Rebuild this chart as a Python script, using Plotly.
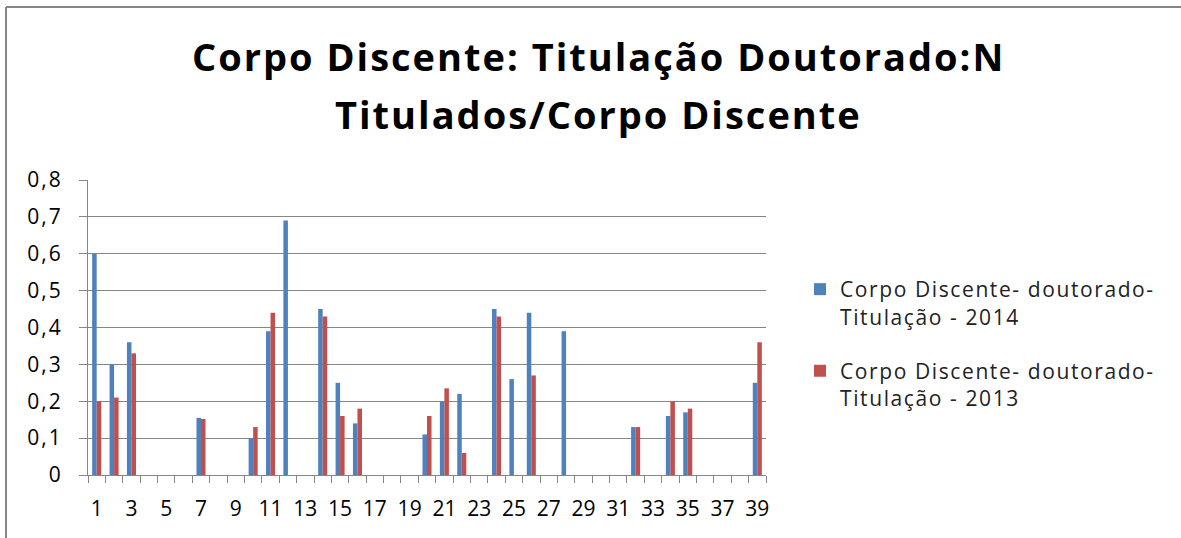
import plotly.graph_objects as go

categories = list(range(1, 40))
series_2014 = [0.6, 0.3, 0.36, None, None, None, 0.155, None, None, 0.1,
               0.39, 0.69, None, 0.45, 0.25, 0.14, None, None, None, 0.11,
               0.2, 0.22, None, 0.45, 0.26, 0.44, None, 0.39, None, None,
               None, 0.13, None, 0.16, 0.17, None, None, None, 0.25]
series_2013 = [0.2, 0.21, 0.33, None, None, None, 0.152, None, None, 0.13,
               0.44, None, None, 0.43, 0.16, 0.18, None, None, None, 0.16,
               0.235, 0.06, None, 0.43, None, 0.27, None, None, None, None,
               None, 0.13, None, 0.2, 0.18, None, None, None, 0.36]
x_tick_values = [c for c in categories if c % 2 == 1]
x_tick_labels = [str(c) for c in x_tick_values]
y_tick_values = [0, 0.1, 0.2, 0.3, 0.4, 0.5, 0.6, 0.7, 0.8]
y_tick_labels = ["0", "0,1", "0,2", "0,3", "0,4", "0,5", "0,6", "0,7", "0,8"]
name_2014 = ["Corpo Discente- doutorado-", "Titulação - 2014"]
name_2013 = ["Corpo Discente- doutorado-", "Titulação - 2013"]
title_lines = ["Corpo Discente: Titulação Doutorado:N", "Titulados/Corpo Discente"]

FONT = "Open Sans"
BLUE, RED = "#4F81BD", "#C0504D"
L, R, T, B = 88, 415, 180, 63
W, H = 1181, 538
pw, ph = W - L - R, H - T - B


def px_x(px):
    return (px - L) / pw


def px_y(py):
    return (H - B - py) / ph


def spaced(text, ls):
    return f"<span style='letter-spacing:{ls}px'>{text}</span>"


fig = go.Figure()
fig.add_trace(go.Bar(x=categories, y=series_2014, showlegend=False,
                     marker=dict(color=BLUE, line=dict(width=0))))
fig.add_trace(go.Bar(x=categories, y=series_2013, showlegend=False,
                     marker=dict(color=RED, line=dict(width=0))))
# legend entries (square swatches like the original)
for nm, col, grp in [(name_2014, BLUE, "a"), (name_2013, RED, "b")]:
    fig.add_trace(go.Scatter(x=[None], y=[None], mode="markers", legendgroup=grp,
                             name="<br>".join(spaced(s, 1.6) for s in nm),
                             marker=dict(symbol="square", size=13, color=col)))

fig.update_layout(
    width=W, height=H,
    margin=dict(l=L, r=R, t=T, b=B, autoexpand=False),
    paper_bgcolor="white", plot_bgcolor="white",
    separators=", ",
    barmode="group", bargap=0.48, bargroupgap=0,
    font=dict(family=FONT, color="#000000"),
    legend=dict(x=px_x(800), xanchor="left", y=px_y(344), yanchor="middle",
                font=dict(family=FONT, size=21, color="#222222"),
                valign="top", itemsizing="constant", tracegroupgap=24,
                itemwidth=30, bgcolor="rgba(0,0,0,0)"),
    showlegend=True,
)
for i, line in enumerate(title_lines):
    fig.add_annotation(text=spaced(line, 2), xref="paper", yref="paper",
                       x=px_x(598), y=px_y(55.5 + 58.5 * i), xanchor="center", yanchor="middle",
                       showarrow=False,
                       font=dict(family=FONT, size=38, color="#000000", weight="bold"))

fig.update_xaxes(
    range=[0.5, 39.5], tickmode="array", tickvals=x_tick_values,
    ticktext=x_tick_labels, ticks="", showgrid=False,
    showline=True, linecolor="#868686", linewidth=1,
    tickfont=dict(family=FONT, size=21, color="#000000"), ticklabelstandoff=15,
    minor=dict(tickmode="linear", tick0=0.5, dtick=1, ticks="outside", ticklen=7,
               tickcolor="#868686", showgrid=False),
)
fig.update_yaxes(
    range=[0, 0.8], tickmode="array", tickvals=y_tick_values,
    ticktext=[spaced(t, 2) for t in y_tick_labels],
    showgrid=True, gridcolor="#868686", gridwidth=1,
    showline=True, linecolor="#868686", linewidth=1,
    ticks="outside", ticklen=8, tickcolor="#868686",
    tickfont=dict(family=FONT, size=21, color="#000000"), ticklabelstandoff=12,
    zeroline=False,
)
# chart-area border (top and left edges visible)
fig.add_shape(type="line", xref="paper", yref="paper",
              x0=px_x(6), x1=px_x(W + 5), y0=px_y(7), y1=px_y(7),
              line=dict(color="#868686", width=2))
fig.add_shape(type="line", xref="paper", yref="paper",
              x0=px_x(6), x1=px_x(6), y0=px_y(7), y1=px_y(H + 10),
              line=dict(color="#868686", width=2))

fig.write_html("out.html", config={"displayModeBar": False},
               post_script="document.body.style.margin='0';")
